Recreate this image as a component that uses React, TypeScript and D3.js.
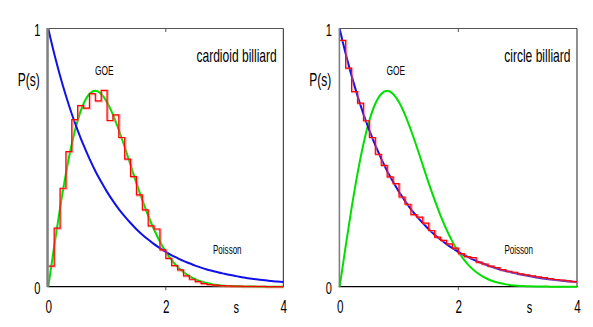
import React from "react";
import * as d3 from "d3";

// spacing grid (s) for theoretical curves
const sGrid = [
  0, 0.1, 0.2, 0.3, 0.4, 0.5, 0.6, 0.7, 0.8, 0.9,
  1.0, 1.1, 1.2, 1.3, 1.4, 1.5, 1.6, 1.7, 1.8, 1.9,
  2.0, 2.1, 2.2, 2.3, 2.4, 2.5, 2.6, 2.7, 2.8, 2.9,
  3.0, 3.1, 3.2, 3.3, 3.4, 3.5, 3.6, 3.7, 3.8, 3.9, 4.0,
];

// Poisson curve values
const poissonValues = [
  1.0, 0.905, 0.819, 0.741, 0.67, 0.607, 0.549, 0.497, 0.449, 0.407,
  0.368, 0.333, 0.301, 0.273, 0.247, 0.223, 0.202, 0.183, 0.165, 0.15,
  0.135, 0.122, 0.111, 0.1, 0.091, 0.082, 0.074, 0.067, 0.061, 0.055,
  0.05, 0.045, 0.041, 0.037, 0.033, 0.03, 0.027, 0.025, 0.022, 0.02, 0.018,
];

// GOE (Wigner) curve values
const goeValues = [
  0, 0.156, 0.305, 0.439, 0.554, 0.645, 0.71, 0.748, 0.76, 0.748,
  0.716, 0.668, 0.608, 0.542, 0.472, 0.402, 0.337, 0.276, 0.222, 0.175,
  0.136, 0.103, 0.077, 0.057, 0.041, 0.029, 0.02, 0.014, 0.009, 0.006,
  0.004, 0.0025, 0.0015, 0.0009, 0.0005, 0.0003, 0.0002, 0.0001, 0.0001, 0, 0,
];

// histogram bin width
const binWidth = 0.1;

// cardioid billiard histogram (40 bins, 0..4)
const cardioidHist = [
  0.08, 0.227, 0.382, 0.524, 0.648, 0.703, 0.693, 0.749, 0.721, 0.762,
  0.645, 0.667, 0.579, 0.495, 0.427, 0.356, 0.298, 0.236, 0.224, 0.143,
  0.11, 0.082, 0.065, 0.042, 0.029, 0.02, 0.012, 0.008, 0.006, 0.004,
  0.003, 0.002, 0.002, 0.001, 0.001, 0.001, 0.001, 0.0, 0.0, 0.0,
];

// circle billiard histogram (40 bins, 0..4)
const circleHist = [
  0.956, 0.848, 0.757, 0.712, 0.644, 0.579, 0.514, 0.471, 0.426, 0.4,
  0.348, 0.32, 0.28, 0.27, 0.247, 0.218, 0.192, 0.18, 0.166, 0.15,
  0.128, 0.117, 0.113, 0.095, 0.088, 0.08, 0.074, 0.066, 0.06, 0.056,
  0.05, 0.046, 0.042, 0.038, 0.035, 0.031, 0.028, 0.026, 0.023, 0.02,
];

const xTicks = [0, 2, 4];
const yTicks = [0, 1];
const panelTitles = ["cardioid billiard", "circle billiard"];

const W = 593;
const H = 327;
const Y0 = 286.7;
const Y1 = 29;
const SQ = 0.67;
const FONT = "'Liberation Sans', Arial, Helvetica, sans-serif";

function SqText({ x, y, size, anchor = "start", children }: any) {
  return (
    <text
      transform={`translate(${x},${y}) scale(${SQ},1)`}
      fontSize={size}
      textAnchor={anchor}
      fontFamily={FONT}
      fill="#000"
    >
      {children}
    </text>
  );
}

function Panel({ x0, x1, title, hist, leftAxisWidth }: any) {
  const x = d3.scaleLinear().domain([0, 4]).range([x0, x1]);
  const y = d3.scaleLinear().domain([0, 1]).range([Y0, Y1]);

  const line = d3
    .line<number>()
    .x((_, i) => x(sGrid[i]))
    .y((d) => y(d))
    .curve(d3.curveMonotoneX);

  // step path for histogram
  const pts: [number, number][] = [];
  hist.forEach((v: number, i: number) => {
    pts.push([x(i * binWidth), y(v)]);
    pts.push([x((i + 1) * binWidth), y(v)]);
  });
  const stepPath = d3.line()(pts) as string;

  return (
    <g>
      {/* frame */}
      <line x1={x0} x2={x1} y1={Y1 - 0.5} y2={Y1 - 0.5} stroke="#555" strokeWidth={1} />
      <line x1={x1} x2={x1} y1={Y1 - 0.5} y2={Y0} stroke="#222" strokeWidth={1} />
      <line x1={x0 - 1} x2={x1 + 0.5} y1={Y0} y2={Y0} stroke="#000" strokeWidth={1.3} />
      {/* ticks at x=2 */}
      <line x1={x(2)} x2={x(2)} y1={Y1 - 0.5} y2={Y1 + 3} stroke="#555" strokeWidth={1} />
      <line x1={x(2)} x2={x(2)} y1={Y0} y2={Y0 + 3.5} stroke="#555" strokeWidth={1} />

      {/* curves */}
      <path d={line(goeValues) as string} fill="none" stroke="#00e000" strokeWidth={2} />
      <path d={line(poissonValues) as string} fill="none" stroke="#1010e8" strokeWidth={2} />

      {/* histogram */}
      <path d={stepPath} fill="none" stroke="#ff7070" strokeOpacity={0.5} strokeWidth={2.2} transform="translate(0.8,0.6)" />
      <path d={stepPath} fill="none" stroke="#ff0000" strokeWidth={1.2} />

      {/* left axis */}
      <line x1={x0 - leftAxisWidth / 2 + 0.5} x2={x0 - leftAxisWidth / 2 + 0.5} y1={Y1 - 1} y2={Y0} stroke="#808080" strokeWidth={leftAxisWidth} />

      {/* tick labels */}
      {yTicks.map((t) => (
        <SqText key={"y" + t} x={x0 - 11} y={y(t) + 7} size={16.5} anchor="middle">
          {String(t)}
        </SqText>
      ))}
      {xTicks.map((t) => (
        <SqText key={"x" + t} x={x(t) + 0.5} y={313} size={17.5} anchor="middle">
          {String(t)}
        </SqText>
      ))}
      <SqText x={x(3.2)} y={313} size={16.5} anchor="middle">s</SqText>
      <SqText x={x0 - 19.5} y={86} size={18} anchor="middle">P(s)</SqText>
      <SqText x={x1 - 6.5} y={62} size={18} anchor="end">{title}</SqText>
      <SqText x={x0 + 56} y={75} size={12.5} anchor="middle">GOE</SqText>
      <SqText x={x0 + 179} y={254} size={12} anchor="middle">Poisson</SqText>
    </g>
  );
}

export default function App() {
  return (
    <svg
      width={W}
      height={H}
      viewBox={`0 0 ${W} ${H}`}
      style={{ position: "absolute", left: 0, top: 0, background: "#fff" }}
    >
      <rect x={0} y={0} width={W} height={H} fill="#fff" />
      <Panel x0={48.3} x1={283.3} title={panelTitles[0]} hist={cardioidHist} leftAxisWidth={2.5} />
      <Panel x0={339.7} x1={577} title={panelTitles[1]} hist={circleHist} leftAxisWidth={1.6} />
    </svg>
  );
}
